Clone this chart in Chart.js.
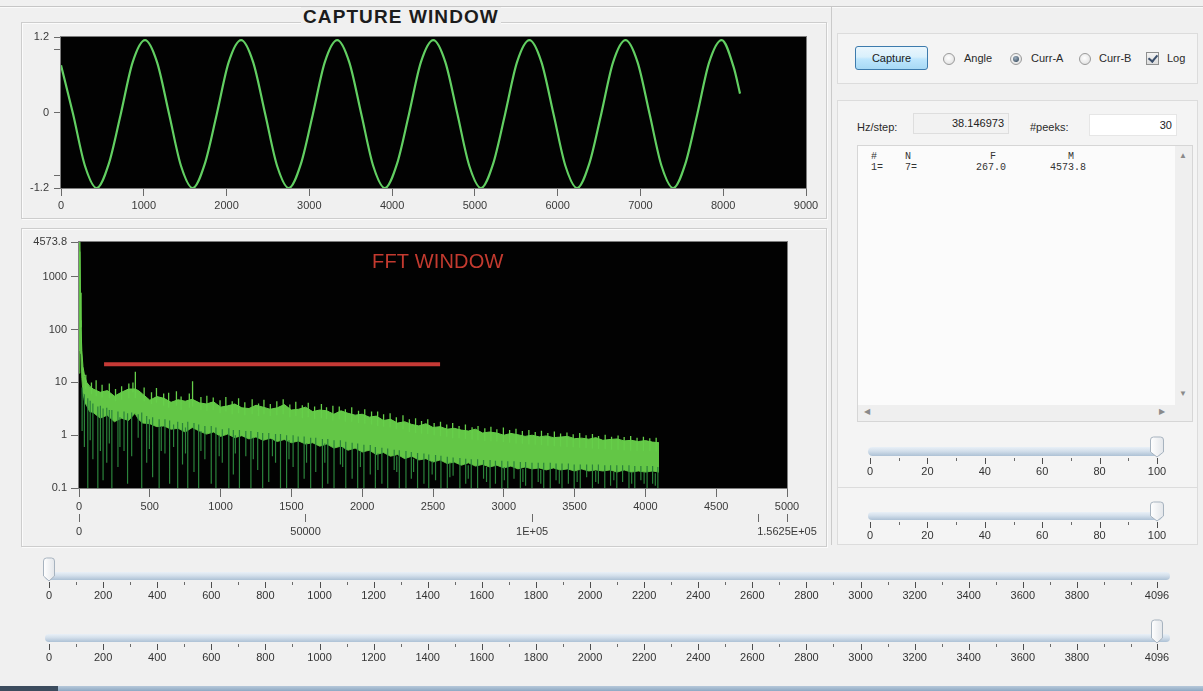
<!DOCTYPE html>
<html><head><meta charset="utf-8">
<script src="https://cdn.jsdelivr.net/npm/chart.js@4.4.1/dist/chart.umd.min.js"></script>
<style>
html,body{margin:0;padding:0;}
body{width:1203px;height:691px;background:#f0f0f0;position:relative;overflow:hidden;font-family:"Liberation Sans",Arial,sans-serif;color:#222;}
.abs{position:absolute;}
.group{position:absolute;box-sizing:border-box;border:1px solid #cdcdcd;box-shadow:inset 1px 1px 0 #fbfbfb,1px 1px 0 #fbfbfb;}
.box{position:absolute;box-sizing:border-box;border:1px solid #dcdcdc;background:#f4f4f4;}
canvas{position:absolute;display:block;}
.lbl{position:absolute;font-size:11px;color:#2a2a2a;white-space:nowrap;}
.radio{position:absolute;width:12px;height:12px;border-radius:50%;box-sizing:border-box;border:1px solid #9a9a9a;background:radial-gradient(circle at 45% 40%,#ffffff 0%,#e9e9e9 60%,#d4d4d4 100%);}
.radio.on::after{content:"";position:absolute;left:2px;top:2px;width:6px;height:6px;border-radius:50%;background:radial-gradient(circle at 40% 35%,#9fb0c0 0%,#3f5366 80%);}
.mono{position:absolute;font-family:"Liberation Mono","DejaVu Sans Mono",monospace;font-size:10px;color:#333;white-space:pre;}
</style></head><body>

<div class="abs" style="left:0;top:6px;width:1203px;height:1px;background:#c6c6c6"></div>
<div class="abs" style="left:0;top:7px;width:1203px;height:1px;background:#fafafa"></div>
<div class="abs" style="left:831px;top:7px;width:1px;height:538px;background:#cacaca"></div>

<div class="group" style="left:21px;top:22px;width:806px;height:197px"></div>
<div class="group" style="left:21px;top:228px;width:806px;height:319px"></div>
<div class="abs" style="left:301px;top:7px;padding:0 2px;background:#f0f0f0;font-family:'Liberation Sans',Arial,sans-serif;font-weight:bold;font-size:19px;letter-spacing:1.1px;color:#1c1c1c;line-height:20px">CAPTURE WINDOW</div>

<canvas id="cap" width="805" height="196" style="left:21px;top:22px"></canvas>
<canvas id="fft" width="805" height="318" style="left:21px;top:228px"></canvas>
<div class="abs" style="left:372px;top:250px;font-size:20px;color:#c33a2f;line-height:22px;letter-spacing:0.2px">FFT WINDOW</div>

<!-- right panel -->
<div class="box" style="left:837px;top:33px;width:361px;height:51px"></div>
<div class="box" style="left:837px;top:100px;width:361px;height:388px"></div>
<div class="box" style="left:837px;top:487px;width:361px;height:58px"></div>

<div class="abs" style="left:855px;top:46px;width:73px;height:24px;box-sizing:border-box;border:1px solid #3d7bad;border-radius:3px;background:linear-gradient(#eaf6fd,#d9f0fc 45%,#bee6fd 55%,#a7d9f5);font-size:11px;line-height:22px;text-align:center;color:#1a1a1a">Capture</div>
<div class="radio" style="left:943px;top:53px"></div><div class="lbl" style="left:964px;top:52px">Angle</div>
<div class="radio on" style="left:1010px;top:53px"></div><div class="lbl" style="left:1031px;top:52px">Curr-A</div>
<div class="radio" style="left:1079px;top:53px"></div><div class="lbl" style="left:1099px;top:52px">Curr-B</div>
<div class="abs" style="left:1146px;top:52px;width:13px;height:13px;box-sizing:border-box;border:1px solid #8e8f8f;background:linear-gradient(#f4f4f4,#dcdcdc);"><div style="position:absolute;left:3px;top:0px;width:4px;height:7px;border-right:2px solid #3b4f6b;border-bottom:2px solid #3b4f6b;transform:rotate(40deg)"></div></div>
<div class="lbl" style="left:1167px;top:52px">Log</div>

<div class="lbl" style="left:857px;top:121px">Hz/step:</div>
<div class="abs" style="left:913px;top:113px;width:96px;height:21px;box-sizing:border-box;border:1px solid #dedede;background:#f2f2f2;font-size:11px;line-height:19px;text-align:right;padding-right:4px;color:#222">38.146973</div>
<div class="lbl" style="left:1030px;top:121px">#peeks:</div>
<div class="abs" style="left:1089px;top:114px;width:88px;height:22px;box-sizing:border-box;background:#ffffff;border:1px solid #e6e6e6;font-size:11px;line-height:20px;text-align:right;padding-right:4px;color:#222">30</div>

<div class="abs" style="left:857px;top:145px;width:336px;height:277px;box-sizing:border-box;border:1px solid #d6d6d6;background:#fbfbfb"></div>
<div class="abs" style="left:1175px;top:146px;width:17px;height:259px;background:#efefef"></div>
<div class="abs" style="left:858px;top:405px;width:334px;height:16px;background:#efefef"></div>
<div class="abs" style="left:1179px;top:151px;font-size:8px;color:#8a8a8a">&#9650;</div>
<div class="abs" style="left:1179px;top:389px;font-size:8px;color:#8a8a8a">&#9660;</div>
<div class="abs" style="left:864px;top:407px;font-size:8px;color:#8a8a8a">&#9664;</div>
<div class="abs" style="left:1159px;top:407px;font-size:8px;color:#8a8a8a">&#9654;</div>
<div id="peakList"></div>

<canvas id="s1" width="360" height="52" style="left:840px;top:430px"></canvas>
<canvas id="s2" width="360" height="50" style="left:840px;top:495px"></canvas>
<canvas id="s3" width="1203" height="58" style="left:0px;top:556px"></canvas>
<canvas id="s4" width="1203" height="58" style="left:0px;top:618px"></canvas>

<div class="abs" style="left:0;top:686px;width:1203px;height:5px;background:linear-gradient(#b6c8da,#8ea9c3)"></div>
<div class="abs" style="left:0;top:686px;width:58px;height:5px;background:#3c4c5e"></div>

<script>
// ---------- data ----------
const waveX = [0,145,290,431,576,721,866,1015,1160,1305,1450,1591,1736,1881,2026,2176,2321,2466,2611,2752,2897,3042,3187,3337,3482,3627,3772,3913,4058,4203,4348,4498,4643,4788,4933,5074,5219,5364,5509,5659,5804,5949,6094,6235,6380,6525,6670,6820,6965,7110,7255,7396,7541,7686,7831,7981,8126,8203];
const waveY = [0.75,-0.02,-0.85,-1.2,-0.82,-0.03,0.8,1.15,0.8,-0.02,-0.85,-1.2,-0.82,-0.03,0.8,1.15,0.8,-0.02,-0.85,-1.2,-0.82,-0.03,0.8,1.15,0.8,-0.02,-0.85,-1.2,-0.82,-0.03,0.8,1.15,0.8,-0.02,-0.85,-1.2,-0.82,-0.03,0.8,1.15,0.8,-0.02,-0.85,-1.2,-0.82,-0.03,0.8,1.15,0.8,-0.02,-0.85,-1.2,-0.82,-0.03,0.8,1.15,0.72,0.3];
const capXTicks = [0,1000,2000,3000,4000,5000,6000,7000,8000,9000];
const capYTicks = [-1.2,-1,0,1,1.2];
const capYLabels = ['-1.2','','0','','1.2'];

// FFT band: upper and lower edge of the dense green band
const fftBins = [0,4,7,10,14,20,28,40,55,75,100,150,200,250,300,350,395,420,450,500,550,600,650,700,750,800,850,900,950,1000,1050,1100,1150,1200,1250,1300,1350,1400,1450,1500,1550,1600,1650,1700,1750,1800,1850,1900,1950,2000,2050,2100,2150,2200,2250,2300,2350,2400,2450,2500,2550,2600,2650,2700,2750,2800,2850,2900,2950,3000,3050,3100,3150,3200,3250,3300,3350,3400,3450,3500,3550,3600,3650,3700,3750,3800,3850,3900,3950,4000,4050,4096];
const fftTop = [40,900,4573.8,500,110,40,20,13,10,8.5,7.5,6.5,7,5.5,6.5,7.5,7.5,7,6,
  4.6,5.4,5.0,4.2,4.7,4.4,4.8,4.1,3.9,4.3,
  3.4,3.6,3.9,3.3,3.2,3.7,3.4,3.1,3.3,3.8,
  3.0,3.1,3.4,2.8,3.0,2.9,2.5,2.9,2.6,2.4,
  2.5,2.2,2.3,1.9,2.0,1.7,1.8,1.6,1.5,1.65,
  1.4,1.45,1.3,1.35,1.25,1.2,1.3,1.1,1.15,1.1,
  1.0,1.08,1.02,0.95,1.0,0.93,0.97,0.9,0.92,0.95,
  0.86,0.88,0.84,0.9,0.8,0.83,0.85,0.78,0.8,0.76,
  0.79,0.74,0.72];
const fftLow = [15,300,3000,150,35,12,6.5,4.2,3.6,2.8,2.7,2.1,2.4,1.8,2.1,1.9,2.6,2.0,1.7,
  1.65,1.45,1.5,1.3,1.35,1.15,1.4,1.2,1.05,1.15,
  0.95,1.05,0.9,0.98,0.85,0.93,0.8,0.88,0.76,0.83,
  0.72,0.78,0.68,0.72,0.62,0.68,0.57,0.62,0.52,0.57,
  0.48,0.52,0.43,0.47,0.4,0.43,0.36,0.4,0.34,0.36,
  0.31,0.34,0.29,0.31,0.27,0.3,0.26,0.28,0.25,0.27,
  0.24,0.26,0.23,0.25,0.23,0.24,0.22,0.24,0.22,0.23,
  0.21,0.23,0.21,0.22,0.21,0.22,0.2,0.22,0.2,0.21,
  0.2,0.21,0.2];
// dark green downward spikes (bin, bottom, top)
const spikeBins = [22,38,62,79,98,133,151,170,196,214,
  232,275,289,318,343,372,418,443,478,497,
  520,566,581,607,640,668,697,731,752,768,
  812,845,861,889,934,967,990,1012,1058,1090,
  1104,1133,1178,1214,1231,1262,1297,1340,1366,1388,
  1423,1466,1483,1512,1548,1590,1607,1636,1672,1719,
  1736,1757,1801,1846,1862,1884,1929,1968,1987,2012,
  2057,2093,2111,2139,2180,2226,2244,2262,2309,2347,
  2363,2391,2436,2470,2494,2518,2556,2601,2619,2642,
  2690,2731,2749,2770,2815,2857,2878,2903,2941,2986,
  3004,3028,3072,3117,3135,3154,3199,3243,3261,3282,
  3328,3369,3392,3411,3456,3497,3518,3540,3585,3626,
  3649,3668,3713,3754,3777,3798,3839,3884,3903,3925,
  3968,3991,4012,4051,4070,4088];
const spikeLow = [1.2,0.6,0.1,0.8,0.35,0.1,0.5,0.14,0.3,0.7,
  0.1,0.25,0.6,0.5,0.12,0.4,0.9,0.1,0.3,0.55,
  0.16,0.1,0.5,0.45,0.12,0.6,0.1,0.28,0.45,0.1,
  0.2,0.1,0.5,0.35,0.12,0.1,0.4,0.3,0.1,0.18,
  0.45,0.1,0.4,0.1,0.35,0.22,0.1,0.13,0.4,0.3,
  0.1,0.1,0.35,0.25,0.1,0.15,0.3,0.1,0.2,0.1,
  0.3,0.12,0.1,0.28,0.25,0.1,0.15,0.1,0.25,0.1,
  0.18,0.1,0.22,0.12,0.1,0.22,0.2,0.1,0.1,0.15,
  0.2,0.1,0.12,0.1,0.18,0.14,0.1,0.1,0.16,0.17,
  0.1,0.12,0.15,0.1,0.1,0.15,0.13,0.1,0.12,0.1,
  0.14,0.1,0.15,0.1,0.13,0.11,0.1,0.13,0.12,0.1,
  0.1,0.14,0.12,0.1,0.12,0.1,0.13,0.1,0.16,0.1,
  0.13,0.12,0.1,0.11,0.14,0.1,0.13,0.1,0.12,0.1,
  0.14,0.12,0.1,0.12,0.11,0.1];
const spikeHigh = [8,6,5,4.5,4,3.5,3.6,3.2,3.3,3.0,
  3.0,2.8,2.2,2.8,2.6,2.7,2.5,2.7,2.3,2.0,
  2.2,2.0,1.5,2.0,1.9,1.6,1.8,1.7,1.4,1.8,
  1.7,1.6,1.2,1.5,1.5,1.4,1.0,1.3,1.35,1.25,
  1.0,1.25,1.2,1.2,0.9,1.15,1.1,1.1,0.85,1.05,
  1.05,1.0,0.8,1.0,0.95,0.95,0.7,0.9,0.9,0.85,
  0.7,0.85,0.8,0.8,0.6,0.75,0.72,0.7,0.5,0.66,
  0.65,0.6,0.45,0.58,0.56,0.53,0.4,0.52,0.5,0.48,
  0.36,0.46,0.45,0.43,0.32,0.42,0.41,0.39,0.3,0.38,
  0.37,0.36,0.27,0.35,0.35,0.34,0.25,0.34,0.33,0.33,
  0.25,0.32,0.32,0.31,0.23,0.31,0.3,0.3,0.22,0.3,
  0.3,0.29,0.22,0.29,0.29,0.28,0.21,0.28,0.28,0.28,
  0.21,0.28,0.27,0.27,0.2,0.27,0.27,0.27,0.2,0.26,
  0.26,0.2,0.26,0.26,0.19,0.25];
// bright green upward spikes on the band's top edge (bin, bottom, top)
const upBins = [48,88,121,163,214,258,301,352,381,398,460,
  512,547,598,633,688,721,779,802,861,903,948,
  996,1037,1082,1127,1171,1223,1268,1306,1351,1397,
  1442,1489,1531,1577,1619,1664,1712,1748,1793,1838,
  1881,1926,1974,2018,2066,2109,2151,2197,2241,2288,
  2333,2377,2419,2463,2508,2553,2597,2639,2684,2729,
  2776,2818,2866,2909,2951,2997,3041,3086,3131,3177,
  3222,3266,3311,3357,3401,3446,3490,3536,3581,3626,
  3669,3716,3761,3807,3850,3896,3941,3986,4031,4076];
const upBase = [7.5,6,5.5,5.2,5,4.4,4.7,5,6.5,5,4.4,
  3.9,4.1,3.6,3.3,3.6,3.0,3.3,3.5,3.0,2.9,3.0,
  2.6,2.8,2.5,2.6,2.4,2.5,2.3,2.5,2.3,2.4,
  2.5,2.2,2.3,2.1,2.2,2.0,2.1,2.0,1.9,2.0,
  1.8,1.8,1.7,1.65,1.6,1.5,1.45,1.4,1.3,1.3,
  1.15,1.1,1.07,1.05,1.0,0.96,0.94,0.88,0.88,0.85,
  0.83,0.8,0.78,0.77,0.76,0.74,0.72,0.7,0.69,0.67,
  0.66,0.65,0.63,0.62,0.61,0.6,0.59,0.58,0.57,0.56,
  0.55,0.54,0.53,0.53,0.52,0.51,0.51,0.5,0.5,0.49];
const upHigh = [14,10,11,9,9.5,7.5,8.5,9.5,10,16,8,
  6.5,7.8,6.2,6.4,6.8,5.4,6.2,10.5,5.3,5.6,5.2,
  4.6,5.3,4.4,5.0,4.2,4.8,4.0,4.7,3.9,4.4,
  4.8,3.8,4.3,3.7,4.1,3.5,3.9,3.4,3.6,3.5,
  3.1,3.4,2.9,3.1,2.8,2.8,2.5,2.6,2.2,2.4,
  2.0,2.1,1.85,2.0,1.7,1.8,1.6,1.7,1.5,1.6,
  1.42,1.5,1.35,1.45,1.3,1.4,1.25,1.32,1.2,1.26,
  1.15,1.22,1.1,1.17,1.08,1.12,1.04,1.1,1.0,1.06,
  0.97,1.02,0.94,0.99,0.92,0.97,0.9,0.94,0.88,0.9];
const thresholdX = [177,2550];
const thresholdY = 22;
const fftYTicks = [0.1,1,10,100,1000,4573.8];
const fftYLabels = ['0.1','1','10','100','1000','4573.8'];
const fftXTicks = [0,500,1000,1500,2000,2500,3000,3500,4000,4500,5000];
const hzTicks = [0,50000,100000,150000,156250];
const hzLabels = ['0','50000','1E+05','','1.5625E+05'];

const rangeTicks = [0,200,400,600,800,1000,1200,1400,1600,1800,2000,2200,2400,2600,2800,3000,3200,3400,3600,3800,4096];
const rangeMinor = [100,300,500,700,900,1100,1300,1500,1700,1900,2100,2300,2500,2700,2900,3100,3300,3500,3700,3900,4000];
const pctTicks = [0,20,40,60,80,100];
const pctMinor = [10,30,50,70,90];
const startSlider = 0, endSlider = 4096, levelSlider1 = 100, levelSlider2 = 100;

const peakHeader = ['#','N','F','M'];
const peakRow = ['1=','7=','267.0','4573.8'];

// ---------- peak list text ----------
(function(){
  const host = document.getElementById('peakList');
  const cols = [871,905,990,1068];
  const rowCols = [871,905,976,1050];
  peakHeader.forEach((t,i)=>{const d=document.createElement('div');d.className='mono';d.style.left=cols[i]+'px';d.style.top='151px';d.textContent=t;host.appendChild(d);});
  peakRow.forEach((t,i)=>{const d=document.createElement('div');d.className='mono';d.style.left=rowCols[i]+'px';d.style.top='162px';d.textContent=t;host.appendChild(d);});
})();

// ---------- chart setup ----------
Chart.defaults.font.family = '"Liberation Sans", Arial, sans-serif';
Chart.defaults.font.size = 11;
Chart.defaults.color = '#3a3a3a';
Chart.defaults.animation = false;
Chart.defaults.events = [];
Chart.defaults.plugins.legend.display = false;
Chart.defaults.plugins.tooltip.enabled = false;

const plotFrame = {
  id:'plotFrame',
  beforeDraw(chart){
    const a = chart.chartArea, ctx = chart.ctx;
    ctx.save(); ctx.fillStyle = '#020202';
    ctx.fillRect(a.left, a.top, a.right-a.left, a.bottom-a.top); ctx.restore();
  },
  afterDraw(chart){
    const a = chart.chartArea, ctx = chart.ctx;
    ctx.save(); ctx.strokeStyle = '#7d7d7d'; ctx.lineWidth = 1;
    ctx.strokeRect(Math.round(a.left)-0.5, Math.round(a.top)-0.5, Math.round(a.right-a.left)+1, Math.round(a.bottom-a.top)+1);
    ctx.restore();
  }
};

// Capture window
new Chart(document.getElementById('cap'), {
  type:'line',
  data:{datasets:[{
    data: waveX.map((x,i)=>({x:x,y:waveY[i]})),
    borderColor:'#62cf62', borderWidth:2.2, pointRadius:0, cubicInterpolationMode:'monotone', fill:false
  }]},
  options:{
    responsive:false,
    layout:{padding:{left:0,top:15,right:20,bottom:4}},
    scales:{
      x:{type:'linear',min:0,max:9000,
        afterBuildTicks:s=>{s.ticks=capXTicks.map(v=>({value:v}));},
        afterFit:s=>{s.height=26;},
        ticks:{autoSkip:false,maxRotation:0,padding:3,color:'#3a3a3a',callback:v=>String(v)},
        grid:{drawOnChartArea:false,tickLength:8,tickColor:'#6a6a6a'},
        border:{display:false}},
      y:{type:'linear',min:-1.2,max:1.2,
        afterBuildTicks:s=>{s.ticks=capYTicks.map(v=>({value:v}));},
        afterFit:s=>{s.width=40;},
        ticks:{autoSkip:false,padding:5,color:'#3a3a3a',callback:(v,i)=>capYLabels[i]},
        grid:{drawOnChartArea:false,tickLength:7,tickColor:'#6a6a6a'},
        border:{display:false}}
    }
  },
  plugins:[plotFrame]
});

// FFT window
function segments(bins, lows, highs){
  const out = [];
  bins.forEach((b,i)=>{out.push({x:b,y:lows[i]},{x:b,y:highs[i]},{x:b,y:null});});
  return out;
}
new Chart(document.getElementById('fft'), {
  type:'line',
  data:{datasets:[
    {data: thresholdX.map(x=>({x:x,y:thresholdY})), borderColor:'#c63a36', borderWidth:4, pointRadius:0, fill:false, order:0},
    {data: segments(spikeBins, spikeLow, spikeHigh), borderColor:'#2b833b', borderWidth:1.2, pointRadius:0, fill:false, spanGaps:false, order:1},
    {data: segments(upBins, upBase, upHigh), borderColor:'#66cf4a', borderWidth:1.3, pointRadius:0, fill:false, spanGaps:false, order:2},
    {data: fftBins.map((b,i)=>({x:b,y:fftTop[i]})), borderColor:'#66cf4a', backgroundColor:'#63c646', borderWidth:1, pointRadius:0, fill:'+1', order:3},
    {data: fftBins.map((b,i)=>({x:b,y:fftLow[i]})), borderColor:'#58b842', borderWidth:1, pointRadius:0, fill:false, order:4}
  ]},
  options:{
    responsive:false,
    layout:{padding:{left:0,top:14,right:39,bottom:8}},
    scales:{
      x:{type:'linear',min:0,max:5000,weight:1,position:'bottom',
        afterBuildTicks:s=>{s.ticks=fftXTicks.map(v=>({value:v}));},
        afterFit:s=>{s.height=26;},
        ticks:{autoSkip:false,maxRotation:0,padding:3,color:'#3a3a3a',callback:v=>String(v)},
        grid:{drawOnChartArea:false,tickLength:9,tickColor:'#6a6a6a'},
        border:{display:false}},
      x2:{type:'linear',min:0,max:156250,weight:2,position:'bottom',
        afterBuildTicks:s=>{s.ticks=hzTicks.map(v=>({value:v}));},
        afterFit:s=>{s.height=24;},
        ticks:{autoSkip:false,maxRotation:0,padding:3,color:'#3a3a3a',callback:(v,i)=>hzLabels[i]},
        grid:{drawOnChartArea:false,tickLength:8,tickColor:'#6a6a6a'},
        border:{display:false}},
      y:{type:'logarithmic',min:0.1,max:4573.8,
        afterBuildTicks:s=>{s.ticks=fftYTicks.map(v=>({value:v}));},
        afterFit:s=>{s.width=58;},
        ticks:{autoSkip:false,padding:4,color:'#3a3a3a',callback:(v,i)=>fftYLabels[i]},
        grid:{drawOnChartArea:false,tickLength:8,tickColor:'#6a6a6a'},
        border:{display:false}}
    }
  },
  plugins:[plotFrame]
});

// Sliders
function sliderPlugin(cfg){
  return {
    id:'sliderDeco',
    beforeDatasetsDraw(chart){
      const s = chart.scales.x, a = chart.chartArea, ctx = chart.ctx;
      const x0 = s.getPixelForValue(s.min) - cfg.extL, x1 = s.getPixelForValue(s.max) + cfg.extR;
      const ty = a.top, th = a.bottom - a.top;
      ctx.save();
      const g = ctx.createLinearGradient(0, ty, 0, ty+th);
      g.addColorStop(0,'#e9f0f7'); g.addColorStop(0.45,'#d3dfeb'); g.addColorStop(1,'#adc1d5');
      ctx.fillStyle = g;
      ctx.beginPath();
      const r = th/2;
      ctx.moveTo(x0+r, ty); ctx.lineTo(x1-r, ty); ctx.arc(x1-r, ty+r, r, -Math.PI/2, Math.PI/2);
      ctx.lineTo(x0+r, ty+th); ctx.arc(x0+r, ty+r, r, Math.PI/2, Math.PI*1.5); ctx.closePath(); ctx.fill();
      ctx.strokeStyle = '#4e4e4e'; ctx.lineWidth = 1;
      cfg.major.forEach(v=>{const x=Math.round(s.getPixelForValue(v))+0.5; ctx.beginPath(); ctx.moveTo(x,a.bottom+2); ctx.lineTo(x,a.bottom+8); ctx.stroke();});
      ctx.strokeStyle = '#6a6a6a';
      cfg.minor.forEach(v=>{const x=Math.round(s.getPixelForValue(v))+0.5; ctx.beginPath(); ctx.moveTo(x,a.bottom+2); ctx.lineTo(x,a.bottom+5); ctx.stroke();});
      ctx.restore();
    },
    afterDraw(chart){
      const s = chart.scales.x, a = chart.chartArea, ctx = chart.ctx;
      const x = s.getPixelForValue(cfg.value);
      const w = cfg.thumbW, top = a.top - cfg.thumbUp, bot = a.bottom + 1;
      ctx.save();
      const g = ctx.createLinearGradient(x-w/2, 0, x+w/2, 0);
      g.addColorStop(0,'#ffffff'); g.addColorStop(1,'#e3e6ea');
      ctx.fillStyle = g; ctx.strokeStyle = '#a7b3bf'; ctx.lineWidth = 1;
      ctx.beginPath();
      ctx.moveTo(x-w/2, top+3); ctx.quadraticCurveTo(x-w/2, top, x-w/2+3, top);
      ctx.lineTo(x+w/2-3, top); ctx.quadraticCurveTo(x+w/2, top, x+w/2, top+3);
      ctx.lineTo(x+w/2, bot-5); ctx.lineTo(x, bot); ctx.lineTo(x-w/2, bot-5); ctx.closePath();
      ctx.fill(); ctx.stroke();
      ctx.restore();
    }
  };
}
function makeSlider(id, min, max, ticks, minor, value, pad, ext, thumb){
  new Chart(document.getElementById(id), {
    type:'line',
    data:{datasets:[{data:[]}]},
    options:{
      responsive:false,
      layout:{padding:pad},
      scales:{
        x:{type:'linear',min:min,max:max,
          afterBuildTicks:s=>{s.ticks=ticks.map(v=>({value:v}));},
          afterFit:s=>{s.height=23;},
          ticks:{autoSkip:false,maxRotation:0,padding:9,color:'#333333',callback:v=>String(v)},
          grid:{display:false,drawTicks:false},
          border:{display:false}},
        y:{display:false,min:0,max:1,afterFit:s=>{s.width=0;}}
      }
    },
    plugins:[sliderPlugin({major:ticks,minor:minor,value:value,extL:ext[0],extR:ext[1],thumbW:thumb[0],thumbUp:thumb[1]})]
  });
}
makeSlider('s1',0,100,pctTicks,pctMinor,levelSlider1,{left:30,right:43,top:17,bottom:3},[2,5],[13,10]);
makeSlider('s2',0,100,pctTicks,pctMinor,levelSlider2,{left:30,right:43,top:17,bottom:2},[2,5],[13,10]);
makeSlider('s3',0,4096,rangeTicks,rangeMinor,startSlider,{left:49,right:46,top:16,bottom:11},[4,13],[11,14]);
makeSlider('s4',0,4096,rangeTicks,rangeMinor,endSlider,{left:49,right:46,top:16,bottom:11},[4,13],[11,14]);
</script>
</body></html>
